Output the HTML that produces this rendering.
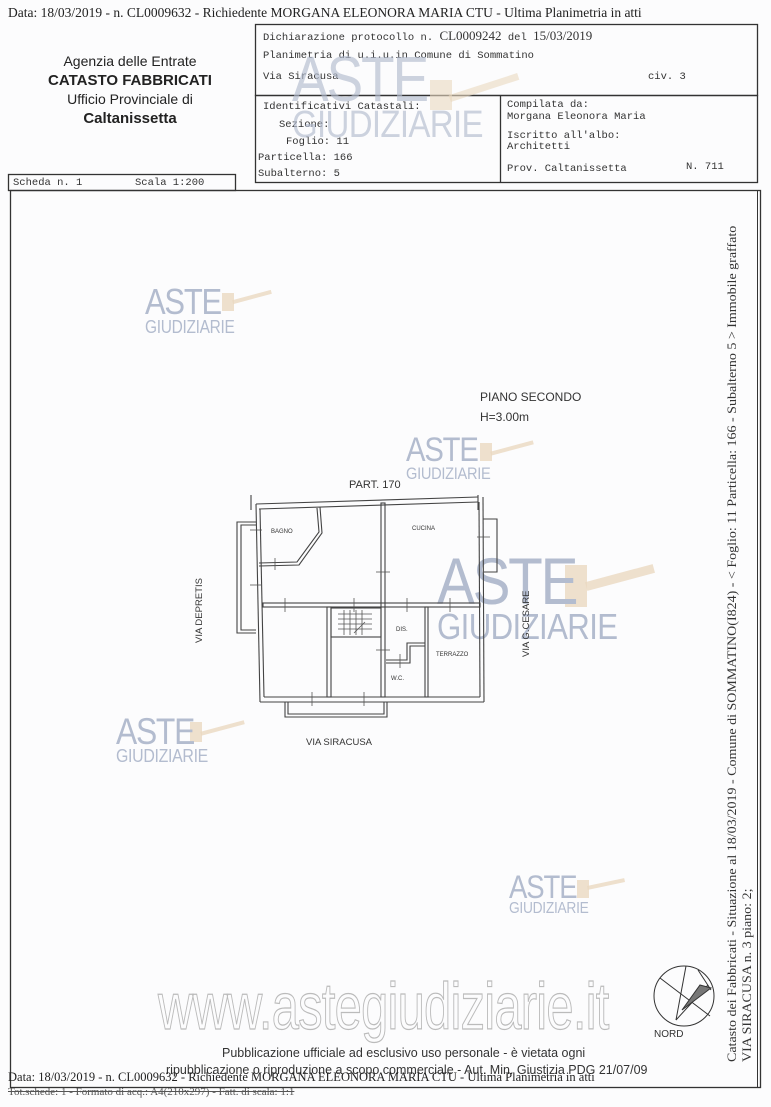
<!DOCTYPE html>
<html><head><meta charset="utf-8">
<style>
body{margin:0;background:#fff}
#p{position:relative;width:771px;height:1107px;background:#fcfcfd;overflow:hidden;font-family:"Liberation Serif",serif;color:#222}
.a{position:absolute;white-space:nowrap}
.m{font-family:"Liberation Mono",monospace;font-size:10.5px;color:#333}
.s{font-family:"Liberation Sans",sans-serif}
.wm{position:absolute;font-family:"Liberation Sans",sans-serif;color:#b3bccf;line-height:.85;white-space:nowrap;transform:scaleX(.86);transform-origin:left top}
.wm b{font-weight:normal;display:block;letter-spacing:-.04em}
.wm i{font-style:normal;display:block;font-size:.46em;letter-spacing:-.02em;line-height:1}
.g{position:absolute;background:#ead8c0;opacity:.8}
</style></head><body><div id="p">

<div class="a" style="left:8px;top:5px;font-size:13.5px">Data: 18/03/2019 - n. CL0009632 - Richiedente MORGANA ELEONORA MARIA CTU - Ultima Planimetria in atti</div>

<div class="a s" style="left:30px;top:52px;width:200px;text-align:center;line-height:19px;color:#222">
<div style="font-size:14px">Agenzia delle Entrate</div>
<div style="font-size:15px;font-weight:bold">CATASTO FABBRICATI</div>
<div style="font-size:14px">Ufficio Provinciale di</div>
<div style="font-size:15px;font-weight:bold">Caltanissetta</div></div>

<svg class="a" style="left:0;top:0" width="771" height="1107">
<g fill="none" stroke="#333" stroke-width="1.3">
<rect x="255.5" y="24.5" width="502" height="71"/>
<rect x="255.5" y="95.5" width="502" height="87"/>
<line x1="500.5" y1="95" x2="500.5" y2="183"/>
<rect x="8.5" y="174.5" width="227" height="16"/>
<rect x="10.5" y="190.5" width="750" height="897"/>
<line x1="757.5" y1="190" x2="757.5" y2="1088" stroke-width="1"/>
</g>
</svg>

<div class="a m" style="left:263px;top:28px">Dichiarazione protocollo n. <span style="font-family:'Liberation Serif';font-size:13px">CL0009242</span> del <span style="font-family:'Liberation Serif';font-size:13px">15/03/2019</span></div>
<div class="a m" style="left:263px;top:50px">Planimetria di u.i.u.in Comune di Sommatino</div>
<div class="a m" style="left:263px;top:71px">Via Siracusa</div>
<div class="a m" style="left:648px;top:71px">civ. 3</div>
<div class="a m" style="left:263px;top:101px">Identificativi Catastali:</div>
<div class="a m" style="left:279px;top:119px">Sezione:</div>
<div class="a m" style="left:286px;top:136px">Foglio: 11</div>
<div class="a m" style="left:258px;top:152px">Particella: 166</div>
<div class="a m" style="left:258px;top:168px">Subalterno: 5</div>
<div class="a m" style="left:507px;top:99px">Compilata da:</div>
<div class="a m" style="left:507px;top:111px">Morgana Eleonora Maria</div>
<div class="a m" style="left:507px;top:130px">Iscritto all'albo:</div>
<div class="a m" style="left:507px;top:141px">Architetti</div>
<div class="a m" style="left:507px;top:163px">Prov. Caltanissetta</div>
<div class="a m" style="left:686px;top:161px">N. 711</div>
<div class="a m" style="left:13px;top:177px">Scheda n. 1</div>
<div class="a m" style="left:135px;top:177px">Scala 1:200</div>

<!-- watermarks -->
<div class="g" style="left:430px;top:80px;width:22px;height:30px;opacity:.6"></div><div class="g" style="left:448px;top:84px;width:72px;height:7px;transform:rotate(-18deg);opacity:.6"></div>
<div class="wm" style="left:292px;top:52px;font-size:64px;opacity:.65"><b>ASTE</b><i style="font-size:.6em">GIUDIZIARIE</i></div>

<div class="g" style="left:222px;top:293px;width:12px;height:18px"></div><div class="g" style="left:232px;top:295px;width:40px;height:4px;transform:rotate(-15deg)"></div>
<div class="wm" style="left:145px;top:287px;font-size:36px"><b>ASTE</b><i style="font-size:.5em">GIUDIZIARIE</i></div>

<div class="g" style="left:480px;top:443px;width:12px;height:18px"></div><div class="g" style="left:490px;top:446px;width:44px;height:4px;transform:rotate(-15deg)"></div>
<div class="wm" style="left:406px;top:436px;font-size:34px"><b>ASTE</b><i style="font-size:.5em">GIUDIZIARIE</i></div>

<div class="g" style="left:565px;top:565px;width:22px;height:42px"></div><div class="g" style="left:585px;top:573px;width:70px;height:9px;transform:rotate(-15deg)"></div>
<div class="wm" style="left:437px;top:553px;font-size:66px"><b>ASTE</b><i style="font-size:.55em">GIUDIZIARIE</i></div>

<div class="g" style="left:190px;top:722px;width:12px;height:20px"></div><div class="g" style="left:200px;top:726px;width:45px;height:4px;transform:rotate(-15deg)"></div>
<div class="wm" style="left:116px;top:716px;font-size:37px"><b>ASTE</b><i style="font-size:.5em">GIUDIZIARIE</i></div>

<div class="g" style="left:577px;top:880px;width:12px;height:18px"></div><div class="g" style="left:587px;top:882px;width:38px;height:4px;transform:rotate(-12deg)"></div>
<div class="wm" style="left:509px;top:874px;font-size:32px"><b>ASTE</b><i style="font-size:.5em">GIUDIZIARIE</i></div>

<!-- floor plan -->
<svg class="a" style="left:0;top:0" width="771" height="1107">
<g fill="none" stroke="#444" stroke-width="1.1">
<line x1="251" y1="495" x2="251" y2="510"/><line x1="478" y1="495" x2="478" y2="510"/>
<polyline points="256,504 478,497"/><polyline points="259,509 478,502"/>
<line x1="256" y1="504" x2="260" y2="702"/><line x1="260" y1="509" x2="264" y2="697"/>
<line x1="483" y1="497" x2="484" y2="702"/><line x1="479" y1="502" x2="480" y2="697"/>
<line x1="260" y1="702" x2="484" y2="702"/><line x1="264" y1="697" x2="480" y2="697"/>
<rect x="263" y="603" width="217" height="4"/>
<rect x="381" y="503" width="4" height="194"/>
<rect x="327" y="607" width="4" height="90"/>
<rect x="331" y="608" width="50" height="29"/>
<rect x="425" y="607" width="3" height="90"/>
<polyline points="317,508 319,532 297,562 259,563"/>
<polyline points="320,507 322,533 299,565 259,566"/>
<polyline points="386,660 407,660 407,643 425,643"/><polyline points="386,663 410,663 410,646 425,646"/>
<polyline points="256,522 237,522 237,633 256,633"/><polyline points="256,525 241,525 241,630 256,630"/>
<polyline points="483,519 497,519 497,572 484,572"/>
<polyline points="285,702 285,717 387,717 387,702"/>
<polyline points="288,702 288,714 384,714 384,702"/>
<g stroke="#555" stroke-width=".8">
<line x1="338" y1="614" x2="372" y2="614"/><line x1="338" y1="619" x2="372" y2="619"/><line x1="338" y1="624" x2="372" y2="624"/><line x1="338" y1="629" x2="372" y2="629"/>
<line x1="344" y1="610" x2="344" y2="635"/><line x1="350" y1="610" x2="350" y2="635"/><line x1="356" y1="610" x2="356" y2="635"/><line x1="362" y1="610" x2="362" y2="635"/>
<line x1="354" y1="633" x2="365" y2="622"/>
<line x1="250" y1="530" x2="262" y2="530"/><line x1="250" y1="585" x2="262" y2="585"/><line x1="285" y1="598" x2="285" y2="612"/><line x1="354" y1="598" x2="354" y2="612"/><line x1="407" y1="598" x2="407" y2="612"/><line x1="450" y1="598" x2="450" y2="612"/>
<line x1="376" y1="572" x2="390" y2="572"/><line x1="376" y1="650" x2="390" y2="650"/><line x1="312" y1="692" x2="312" y2="706"/><line x1="364" y1="692" x2="364" y2="706"/><line x1="400" y1="654" x2="400" y2="668"/><line x1="275" y1="558" x2="275" y2="570"/>
<line x1="477" y1="537" x2="490" y2="537"/>
</g></g>
<g font-family="Liberation Sans,sans-serif" fill="#333">
<text x="349" y="488" font-size="11">PART. 170</text>
<text x="271" y="533" font-size="6">BAGNO</text>
<text x="412" y="530" font-size="6">CUCINA</text>
<text x="396" y="631" font-size="6">DIS.</text>
<text x="391" y="680" font-size="6">W.C.</text>
<text x="436" y="656" font-size="6">TERRAZZO</text>
<text x="306" y="745" font-size="9.5">VIA SIRACUSA</text>
<text x="480" y="401" font-size="12">PIANO SECONDO</text>
<text x="480" y="421" font-size="12">H=3.00m</text>
<text transform="translate(202,643) rotate(-90)" font-size="9.5">VIA DEPRETIS</text>
<text transform="translate(529,657) rotate(-90)" font-size="9.5">VIA G.CESARE</text>
<text x="654" y="1037" font-size="10">NORD</text>
</g>
<g fill="none" stroke="#333" stroke-width="1">
<circle cx="684" cy="996" r="30"/>
<line x1="660" y1="978" x2="710" y2="1016"/><line x1="686" y1="966" x2="676" y2="1020"/><line x1="708" y1="985" x2="676" y2="1020"/><line x1="698" y1="970" x2="711" y2="990"/>
<polygon points="700,985 711,988 682,1010" fill="#777"/>
</g>
</svg>

<div class="a s" style="left:158px;top:968px;font-size:66px;letter-spacing:-1px;color:transparent;-webkit-text-stroke:1.2px #bbb;transform:scaleX(.74);transform-origin:left">www.astegiudiziarie.it</div>

<div class="a s" style="left:222px;top:1046px;font-size:12.5px;color:#333">Pubblicazione ufficiale ad esclusivo uso personale - è vietata ogni</div>
<div class="a s" style="left:166px;top:1063px;font-size:12.5px;color:#333">ripubblicazione o riproduzione a scopo commerciale - Aut. Min. Giustizia PDG 21/07/09</div>
<div class="a" style="left:8px;top:1070px;font-size:12.5px">Data: 18/03/2019 - n. CL0009632 - Richiedente MORGANA ELEONORA MARIA CTU - Ultima Planimetria in atti</div>
<div class="a" style="left:8px;top:1086px;font-size:11px;color:#555;text-decoration:line-through">Tot.schede: 1 - Formato di acq.: A4(210x297) - Fatt. di scala: 1:1</div>

<div class="a" style="left:725px;top:1062px;transform:rotate(-90deg) scaleX(1.12);transform-origin:0 0;font-size:12.5px;line-height:15px;color:#333">
Catasto dei Fabbricati - Situazione al 18/03/2019 - Comune di SOMMATINO(I824) - &lt; Foglio: 11 Particella: 166 - Subalterno 5 &gt; Immobile graffato<br>VIA SIRACUSA n. 3 piano: 2;</div>

</div></body></html>
